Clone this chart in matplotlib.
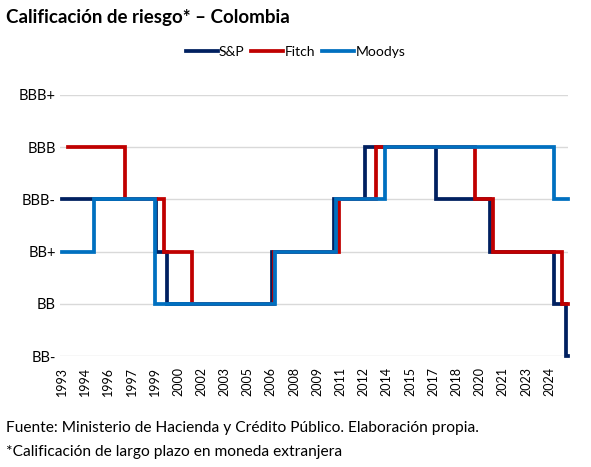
import numpy as np
import matplotlib
matplotlib.use("Agg")
from matplotlib import pyplot as plt

# escala de calificaciones (0 = BB-)
niveles = ["BB-", "BB", "BB+", "BBB-", "BBB", "BBB+"]

# fechas (anio decimal) y calificaciones por agencia
sp_fechas = [1993.0, 1999.1, 1999.8, 2006.6, 2010.6, 2012.6, 2017.2, 2020.7, 2024.8, 2025.6, 2025.7]
sp_notas = [3, 2, 1, 2, 3, 4, 3, 2, 1, 0, 0]

fitch_fechas = [1993.4, 1997.1, 1999.6, 2001.4, 2006.7, 2010.9, 2013.3, 2019.7, 2020.9, 2025.3, 2025.7]
fitch_notas = [4, 3, 2, 1, 2, 3, 4, 3, 2, 1, 1]

moodys_fechas = [1993.0, 1995.1, 1999.0, 2006.8, 2010.7, 2013.9, 2024.8, 2025.7]
moodys_notas = [2, 3, 1, 2, 3, 4, 3, 3]

ticks_x = np.arange(1993.0, 2025.0, 1.5)
ticks_lbl = [str(int(t)) for t in ticks_x]

plt.rcParams['font.family'] = ['Lato', 'DejaVu Sans']

fig = plt.figure(figsize=(5.91, 4.67), dpi=100)
ax = fig.add_axes([60 / 591, 1 - 356 / 467, 508 / 591, 261 / 467])

ax.step(sp_fechas, sp_notas, where='post', color='#002060', lw=2.7, label='S&P',
        solid_joinstyle='miter')
ax.step(fitch_fechas, fitch_notas, where='post', color='#C00000', lw=2.7, label='Fitch',
        solid_joinstyle='miter')
ax.step(moodys_fechas, moodys_notas, where='post', color='#0070C0', lw=2.7, label='Moodys',
        solid_joinstyle='miter')

ax.set_xlim(1993.0 - 0.13, 2025.72)
ax.set_ylim(0, 5)
ax.set_yticks(range(len(niveles)))
ax.set_yticklabels(niveles, fontsize=10.5)
ax.set_xticks(ticks_x)
ax.set_xticklabels(ticks_lbl, rotation=90, fontsize=9)
ax.tick_params(axis='both', length=0)
ax.tick_params(axis='y', pad=3)
ax.tick_params(axis='x', pad=8)
ax.grid(axis='y', color='#D9D9D9', lw=1)
ax.set_axisbelow(True)
for s in ax.spines.values():
    s.set_visible(False)
for ln in ax.get_lines():
    ln.set_clip_on(False)

fig.text(6 / 591, 1 - 18 / 467, "Calificación de riesgo* – Colombia", fontsize=13.5,
         fontweight='bold', va='center', ha='left')

fig.legend(loc='center', bbox_to_anchor=(0.5, 1 - 52 / 467), ncol=3, frameon=False,
           fontsize=10, handlelength=2.3, handletextpad=0.1, columnspacing=0.5)

fig.text(6 / 591, 1 - 428 / 467, "Fuente: Ministerio de Hacienda y Crédito Público. Elaboración propia.",
         fontsize=11.2, va='center', ha='left')
fig.text(6 / 591, 1 - 452 / 467, "*Calificación de largo plazo en moneda extranjera",
         fontsize=11.2, va='center', ha='left')

fig.savefig("out.png", dpi=100)
